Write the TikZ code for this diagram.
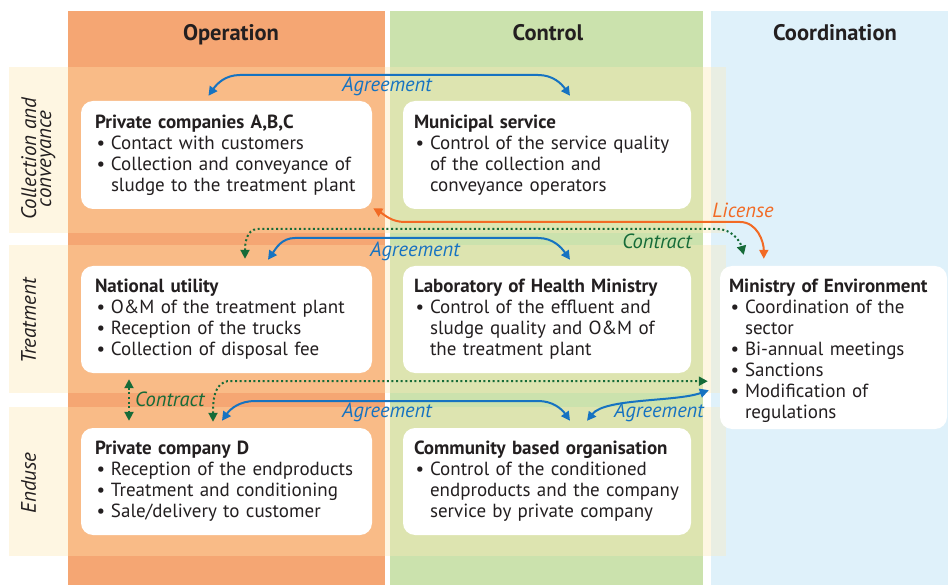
\documentclass[tikz,border=0pt]{standalone}
\usepackage{fontspec}
\setmainfont{PT Sans}
\usetikzlibrary{arrows.meta}
\definecolor{txt}{HTML}{231F20}
\definecolor{opdark}{HTML}{F5A673}
\definecolor{oplight}{HTML}{F9BB87}
\definecolor{ctdark}{HTML}{CBE2AD}
\definecolor{ctlight}{HTML}{DDE4B0}
\definecolor{codark}{HTML}{DFF1FA}
\definecolor{colight}{HTML}{E9EEE3}
\definecolor{cream}{HTML}{FEF6E2}
\definecolor{agblue}{HTML}{1673C1}
\definecolor{cgreen}{HTML}{166B38}
\definecolor{lorange}{HTML}{F26A24}
\newcommand\bu{\makebox[16pt][l]{\hspace{1.5pt}\textbullet}}
\newcommand\cn{\hspace*{16pt}}
\tikzset{
  colhd/.style={anchor=base, font=\fontsize{22.5}{24}\selectfont\bfseries, text=txt},
  rowlbl/.style={rotate=90, anchor=north, align=center, inner sep=0pt,
    font=\fontsize{21}{15}\selectfont\itshape, text=txt},
  box/.style={fill=white, rounded corners=12pt, inner xsep=14pt, inner ysep=0pt,
    align=left, font=\fontsize{19}{21}\selectfont, text=txt},
  lbl/.style={font=\fontsize{20.5}{22}\selectfont\itshape, inner sep=1pt},
  agr/.style={draw=agblue, line width=2pt, <->, >={Triangle[length=9pt,width=9pt]}},
  lic/.style={draw=lorange, line width=2pt, <->, >={Triangle[length=9pt,width=9pt]}},
  ctr/.style={draw=cgreen, line width=2pt, dash pattern=on 2pt off 2.6pt, <->,
    >={Triangle[length=9pt,width=9pt]}}
}
\begin{document}
\begin{tikzpicture}[x=1pt,y=1pt]
  \useasboundingbox (0,0) rectangle (948,-585);
  \fill[opdark] (68,-11) rectangle (385,-585);
  \fill[ctdark] (390,-11) rectangle (703,-585);
  \fill[codark] (711,-11) rectangle (948,-585);
  \foreach \t/\b in {67/233,245/393,407/556}{
    \fill[cream] (9,-\t) rectangle (726,-\b);
    \fill[oplight] (68,-\t) rectangle (385,-\b);
    \fill[ctlight] (390,-\t) rectangle (703,-\b);
    \fill[colight] (711,-\t) rectangle (726,-\b);
  }

  \node[colhd] (hop) at (231,-41) {Operation};
  \node[colhd] (hct) at (548,-41) {Control};
  \node[colhd] (hco) at (835,-41) {Coordination};

  \node[rowlbl] (rcc) at (21,-159) {Collection and\\conveyance};
  \node[rowlbl] (rtr) at (21,-321) {Treatment};
  \node[rowlbl] (reu) at (21,-483) {Enduse};

  \node[box, text width=263pt, minimum height=108pt] (pabc) at (226.5,-155)
    {\textbf{Private companies A,B,C}\\
     \bu Contact with customers\\
     \bu Collection and conveyance of\\
     \cn sludge to the treatment plant};
  \node[box, inner xsep=11pt, text width=266pt, minimum height=108pt] (mun) at (547,-155)
    {\textbf{Municipal service}\\
     \bu Control of the service quality\\
     \cn of the collection and\\
     \cn conveyance operators};
  \node[box, text width=263pt, minimum height=107pt] (nat) at (226.5,-319.5)
    {\textbf{National utility}\\
     \bu O\&M of the treatment plant\\
     \bu Reception of the trucks\\
     \bu Collection of disposal fee};
  \node[box, inner xsep=11pt, text width=266pt, minimum height=107pt] (lab) at (547,-319.5)
    {\textbf{Laboratory of Health Ministry}\\
     \bu Control of the effluent and\\
     \cn sludge quality and O\&M of\\
     \cn the treatment plant};
  \node[box, inner xsep=9pt, text width=209pt, minimum height=163pt] (moe) at (833.5,-347.5)
    {\textbf{Ministry of Environment}\rule{0pt}{20pt}\\
     \bu Coordination of the\\
     \cn sector\\
     \bu Bi-annual meetings\\
     \bu Sanctions\\
     \bu Modification of\\
     \cn regulations};
  \node[box, text width=263pt, minimum height=107pt] (pd) at (226.5,-481.5)
    {\textbf{Private company D}\\
     \bu Reception of the endproducts\\
     \bu Treatment and conditioning\\
     \bu Sale/delivery to customer};
  \node[box, inner xsep=11pt, text width=266pt, minimum height=107pt] (cbo) at (547,-481.5)
    {\textbf{Community based organisation}\\
     \bu Control of the conditioned\\
     \cn endproducts and the company\\
     \cn service by private company};

  \draw[agr] ([shift={(-18,5)}]pabc.north) to[out=55,in=180] (240,-75)
    -- (538,-75) to[out=0,in=125] ([shift={(23,5)}]mun.north);
  \draw[agr] ([shift={(41.5,6)}]nat.north) to[out=55,in=180] (295,-238)
    -- (538,-238) to[out=0,in=125] ([shift={(23,6)}]lab.north);
  \draw[agr] ([shift={(-4.5,7)}]pd.north) to[out=55,in=180] (255,-401)
    -- (538,-401) to[out=0,in=125] ([shift={(23,7)}]cbo.north);
  \draw[agr] ([shift={(40,7)}]cbo.north) .. controls (605,-398) and (675,-402)
    .. ([shift={(-11,39)}]moe.south west);
  \draw[lic] ([shift={(1,1)}]pabc.south east) to[out=-30,in=180] (405,-222)
    -- (740,-222) to[out=0,in=90] ([shift={(44,7)}]moe.north west);
  \draw[ctr] ([shift={(18.5,7)}]nat.north) to[out=90,in=180] (258,-229)
    -- (717,-229) to[out=0,in=105] ([shift={(24,11)}]moe.north west);
  \draw[ctr] ([shift={(-13.5,6)}]pd.north) to[out=90,in=180] (230,-381)
    -- ([shift={(-12,48)}]moe.south west);
  \draw[ctr] ([shift={(-97.5,-6)}]nat.south) -- ([shift={(-97.5,7)}]pd.north);

  \node[lbl, text=agblue] (l1) at (387,-86) {Agreement};
  \node[lbl, text=agblue] (l2) at (415,-251) {Agreement};
  \node[lbl, text=agblue] (l3) at (387,-412) {Agreement};
  \node[lbl, text=agblue] (l4) at (659,-412) {Agreement};
  \node[lbl, text=cgreen] (l5) at (657,-241) {Contract};
  \node[lbl, text=lorange] (l6) at (743,-210) {License};
  \node[lbl, text=cgreen, anchor=west] (l7) at (134,-399) {Contract};
\end{tikzpicture}
\end{document}
